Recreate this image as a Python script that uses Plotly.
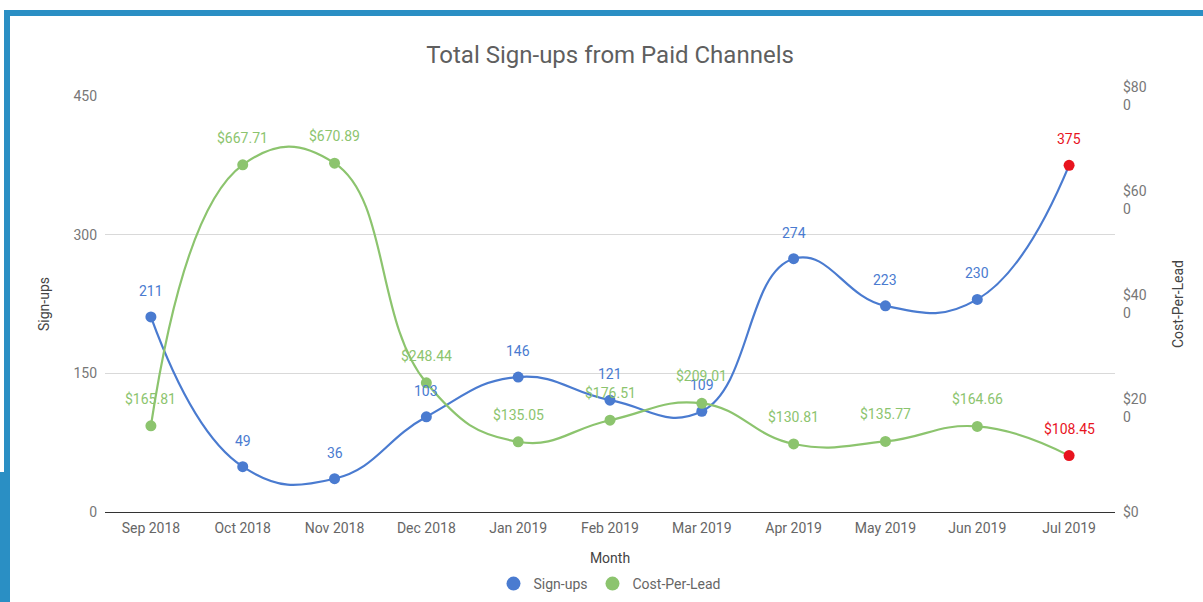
import plotly.graph_objects as go

months = ["Sep 2018", "Oct 2018", "Nov 2018", "Dec 2018", "Jan 2019", "Feb 2019",
          "Mar 2019", "Apr 2019", "May 2019", "Jun 2019", "Jul 2019"]
signups = [211, 49, 36, 103, 146, 121, 109, 274, 223, 230, 375]
cpl = [165.81, 667.71, 670.89, 248.44, 135.05, 176.51, 209.01, 130.81, 135.77, 164.66, 108.45]

left_ticks = [0, 150, 300, 450]
right_ticks = [0, 200, 400, 600, 800]
right_ticktext = ["$0", "$20<br>0", "$40<br>0", "$60<br>0", "$80<br>0"]

BLUE = "#4a7bd0"
GREEN = "#8cc46e"
RED = "#e8141e"
FRAME = "#2a8fc4"

W, H = 1203, 602
L, R, T, B = 105, 1115, 96, 512

def px(x):
    return (x - L) / (R - L)

def py(y):
    return (B - y) / (B - T)

n = len(months)
s_colors = [BLUE] * (n - 1) + [RED]
c_colors = [GREEN] * (n - 1) + [RED]

fig = go.Figure()
fig.add_trace(go.Scatter(
    x=months, y=signups, name="Sign-ups", mode="lines+markers", showlegend=False,
    line=dict(color=BLUE, width=2.2, shape="spline", smoothing=1.3),
    marker=dict(color=s_colors, size=11),
    yaxis="y", cliponaxis=False))
fig.add_trace(go.Scatter(
    x=months, y=cpl, name="Cost-Per-Lead", mode="lines+markers", showlegend=False,
    line=dict(color=GREEN, width=2.2, shape="spline", smoothing=1.3),
    marker=dict(color=c_colors, size=11),
    yaxis="y2", cliponaxis=False))
# legend-only entries (circle symbol only)
fig.add_trace(go.Scatter(x=[months[0]], y=[None], name="Sign-ups", mode="markers",
                         marker=dict(color=BLUE, size=14), yaxis="y"))
fig.add_trace(go.Scatter(x=[months[0]], y=[None], name="Cost-Per-Lead", mode="markers",
                         marker=dict(color=GREEN, size=14), yaxis="y"))

annotations = []
for m, v, c in zip(months, signups, s_colors):
    annotations.append(dict(x=m, y=v, xref="x", yref="y", text=str(v), showarrow=False,
                            yshift=26, font=dict(color=c, size=14, family="Roboto")))
for m, v, c in zip(months, cpl, c_colors):
    annotations.append(dict(x=m, y=v, xref="x", yref="y2", text=f"${v:.2f}", showarrow=False,
                            yshift=27, font=dict(color=c, size=14, family="Roboto")))

shapes = [
    dict(type="rect", xref="paper", yref="paper", x0=px(4), x1=px(W), y0=py(16), y1=py(10),
         fillcolor=FRAME, line=dict(width=0), layer="above"),
    dict(type="rect", xref="paper", yref="paper", x0=px(4), x1=px(10), y0=py(472), y1=py(10),
         fillcolor=FRAME, line=dict(width=0), layer="above"),
    dict(type="rect", xref="paper", yref="paper", x0=px(0), x1=px(10), y0=py(H), y1=py(472),
         fillcolor=FRAME, line=dict(width=0), layer="above"),
]

fig.update_layout(
    width=W, height=H,
    margin=dict(l=L, r=W - R, t=T, b=H - B, autoexpand=False),
    paper_bgcolor="white", plot_bgcolor="white",
    font=dict(family="Roboto", color="#666666", size=14),
    title=dict(text="Total Sign-ups from Paid Channels", x=0.5, xref="paper", xanchor="center",
               y=1 - 55 / H, yanchor="middle",
               font=dict(size=24, color="#5f5f5f", family="Roboto")),
    xaxis=dict(type="category", range=[-0.5, n - 0.5], showgrid=False, zeroline=False,
               showline=True, automargin=False, ticklabelstandoff=3,
               linecolor="#333333", linewidth=1, ticks="", tickfont=dict(size=14, color="#666666"),
               title=dict(text="Month", font=dict(size=14, color="#444444"), standoff=18)),
    yaxis=dict(range=[0, 450], tickvals=left_ticks, showgrid=True, gridcolor="#d9d9d9",
               zeroline=False, showline=False, ticks="", automargin=False, ticklabelstandoff=7,
               tickfont=dict(size=14, color="#777777"),
               title=dict(text="Sign-ups", font=dict(size=14, color="#444444"), standoff=20)),
    yaxis2=dict(range=[0, 800], tickvals=right_ticks, ticktext=right_ticktext, automargin=False,
                overlaying="y", side="right", showgrid=False, zeroline=False, showline=False,
                ticklabelstandoff=7,
                tickfont=dict(size=14, color="#777777"),
                title=dict(text="Cost-Per-Lead", font=dict(size=14, color="#444444"), standoff=27)),
    legend=dict(orientation="h", x=0.5, xanchor="center", y=py(584), yanchor="middle",
                font=dict(size=14, color="#666666")),
    annotations=annotations,
    shapes=shapes,
)

fig.write_html("out.html", config={"displayModeBar": False},
               post_script="document.body.style.margin='0px';")
